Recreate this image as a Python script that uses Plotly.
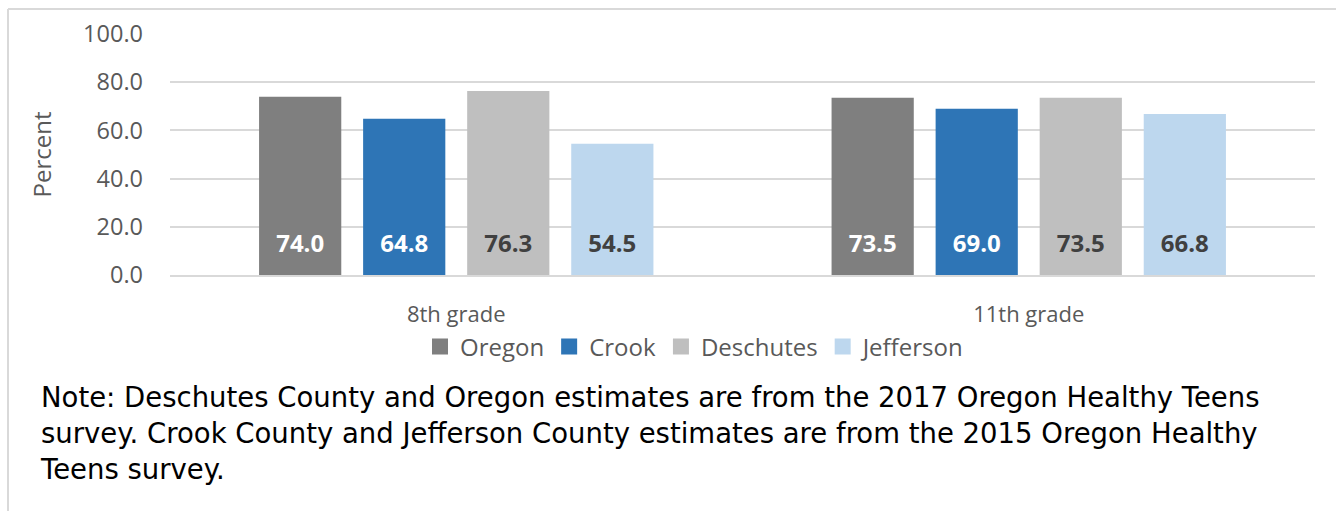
import plotly.graph_objects as go

grades = ["8th grade", "11th grade"]
series_names = ["Oregon", "Crook", "Deschutes", "Jefferson"]
oregon = [74.0, 73.5]
crook = [64.8, 69.0]
deschutes = [76.3, 73.5]
jefferson = [54.5, 66.8]
y_ticks = [0, 20, 40, 60, 80, 100]
note_lines = [
    "Note: Deschutes County and Oregon estimates are from the 2017 Oregon Healthy Teens",
    "survey. Crook County and Jefferson County estimates are from the 2015 Oregon Healthy",
    "Teens survey.",
]

values = [oregon, crook, deschutes, jefferson]
colors = ["#7f7f7f", "#2e75b6", "#bfbfbf", "#bdd7ee"]
label_colors = ["#ffffff", "#ffffff", "#404040", "#404040"]

FONT = "Open Sans"
W, H = 1336, 511
L, R, T, B = 170, 21, 34, 236

def px_x(px):
    return (px - L) / (W - L - R)

def px_y(py):
    return (H - B - py) / (H - T - B)

fig = go.Figure()
for name, vals, c, lc in zip(series_names, values, colors, label_colors):
    fig.add_trace(go.Bar(
        name=name, x=grades, y=vals, marker_color=c, marker_line_width=0,
        text=[f"<span style='font-size:24px'><b>{v:.1f}</b></span><br> " for v in vals],
        textposition="inside", insidetextanchor="start", textangle=0,
        textfont=dict(family=FONT, size=12, color=lc),
        hoverinfo="skip", showlegend=False,
    ))
for name, c in zip(series_names, colors):
    fig.add_trace(go.Scatter(
        name=name, x=[None], y=[None], mode="markers",
        marker=dict(symbol="square", size=16, color=c), hoverinfo="skip",
    ))

annotations = [dict(text="<br>".join(note_lines), xref="paper", yref="paper",
                    x=px_x(38), y=px_y(433), xanchor="left", yanchor="middle",
                    align="left", showarrow=False,
                    font=dict(family="DejaVu Sans", size=27.5, color="#000000"))]

fig.update_layout(
    width=W, height=H,
    margin=dict(l=L, r=R, t=T, b=B),
    paper_bgcolor="white", plot_bgcolor="white",
    barmode="group", bargap=0.273, bargroupgap=0.21,
    font=dict(family=FONT, size=22, color="#595959"),
    showlegend=True,
    legend=dict(orientation="h", x=px_x(695), xanchor="center", y=px_y(347), yanchor="middle",
                font=dict(family=FONT, size=24, color="#595959"), itemwidth=30,
                bgcolor="rgba(0,0,0,0)", traceorder="normal"),
    xaxis=dict(showgrid=False, showline=True, linecolor="#d9d9d9", linewidth=2,
               ticks="", tickfont=dict(size=22, color="#595959"), ticklabelstandoff=19),
    yaxis=dict(range=[0, 100], tickvals=y_ticks, tickformat=".1f",
               showgrid=True, gridcolor="#d9d9d9", gridwidth=2, zeroline=False,
               showline=False, ticks="", tickfont=dict(size=23.5, color="#595959"),
               ticklabelstandoff=26,
               title=dict(text="Percent", font=dict(size=24, color="#595959"), standoff=24)),
    shapes=[
        dict(type="line", xref="paper", yref="paper", x0=px_x(8), x1=px_x(1336), y0=px_y(9), y1=px_y(9),
             line=dict(color="#d9d9d9", width=2)),
        dict(type="line", xref="paper", yref="paper", x0=px_x(8), x1=px_x(8), y0=px_y(9), y1=px_y(511),
             line=dict(color="#d9d9d9", width=2)),
    ],
    annotations=annotations,
)

fig.write_html("out.html", config={"displayModeBar": False},
               post_script="document.body.style.margin='0px';")
